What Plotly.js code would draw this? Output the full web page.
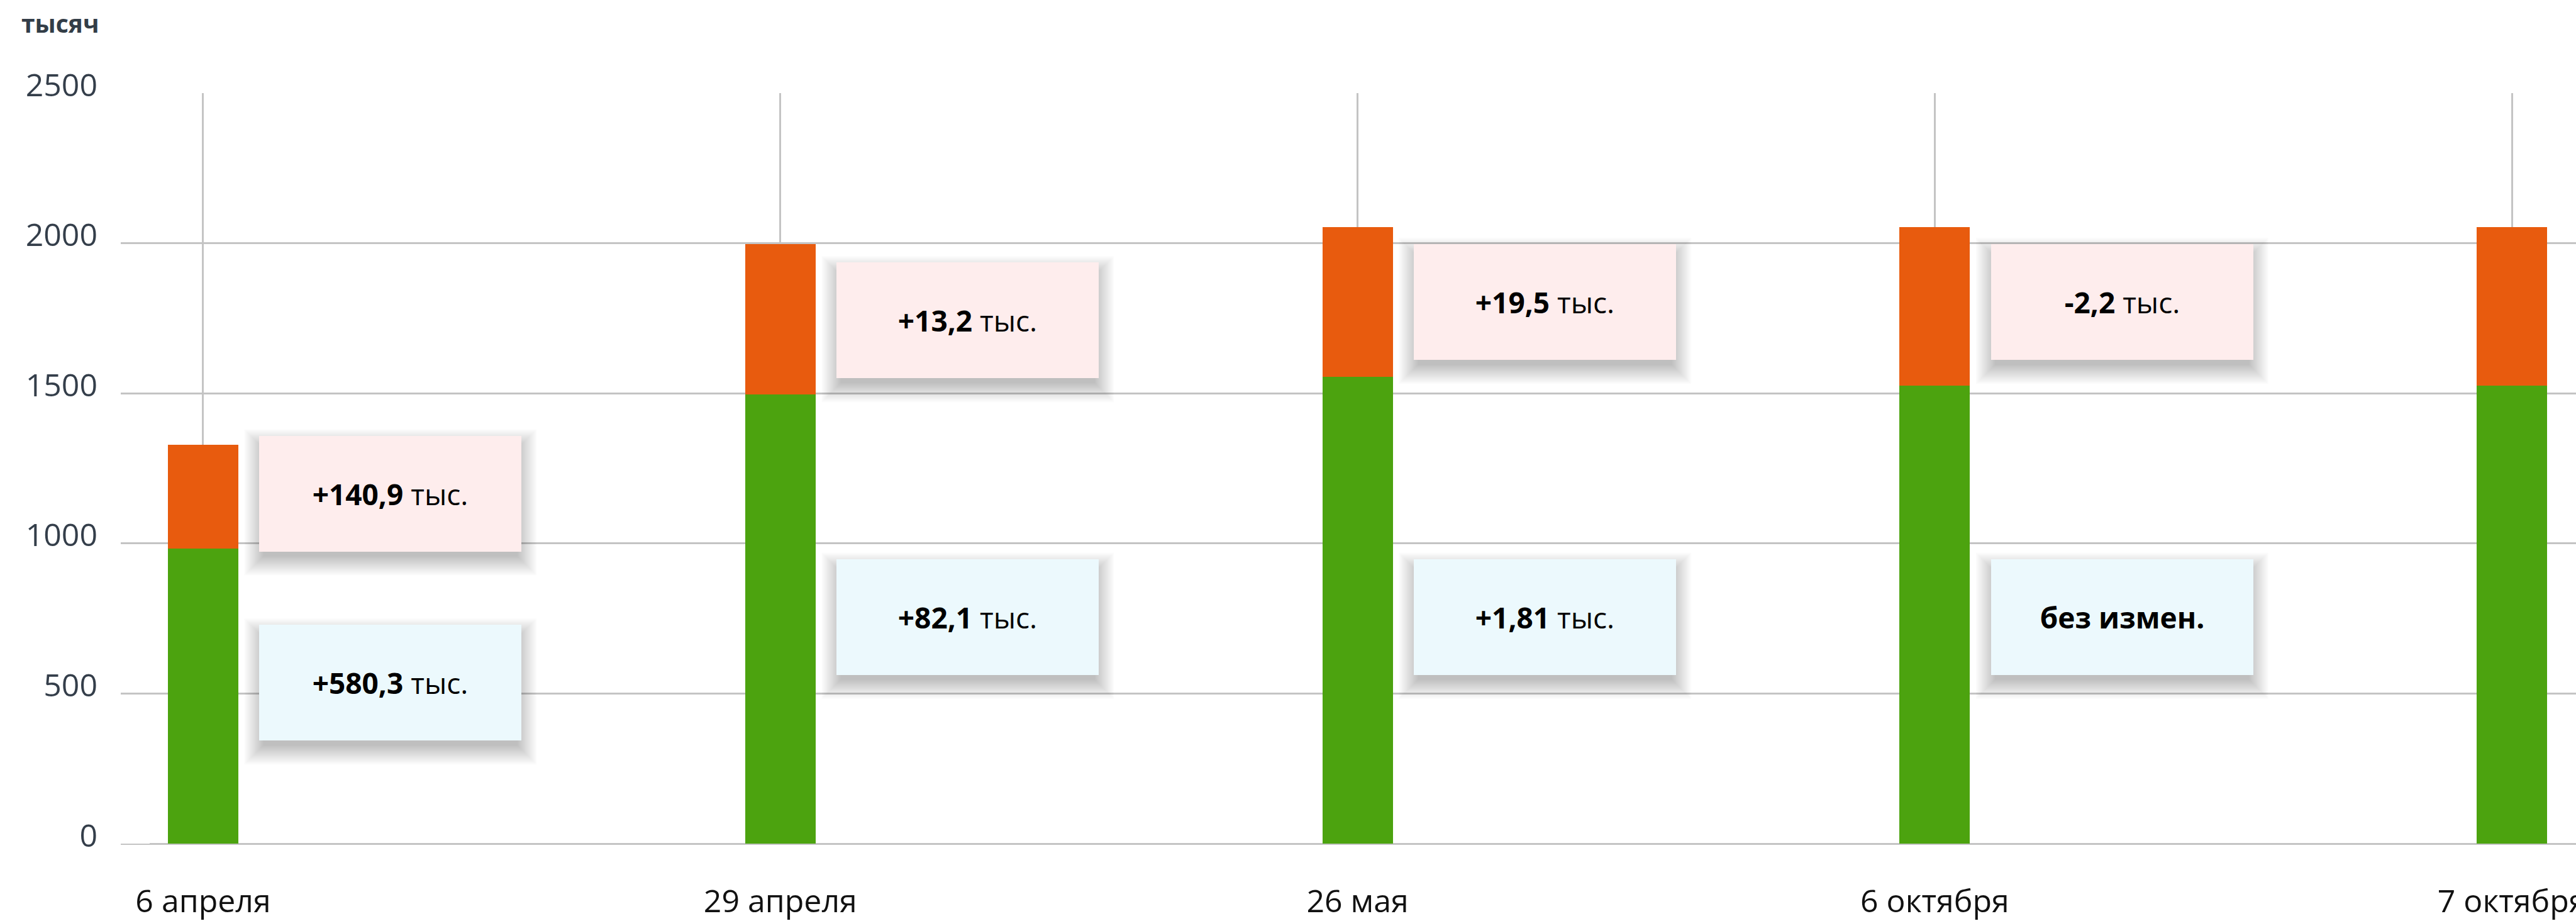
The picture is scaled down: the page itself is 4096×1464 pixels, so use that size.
<!DOCTYPE html>
<html>
<head>
<meta charset="utf-8">
<script src="https://cdn.plot.ly/plotly-3.0.1.min.js"></script>
<style>
html,body{margin:0;padding:0;background:#fff;}
#chart{width:4096px;height:1464px;}
</style>
</head>
<body>
<div id="chart"></div>
<script>
// ---- data ----
const categories = ['6 апреля', '29 апреля', '26 мая', '6 октября', '7 октября'];
const greenValues = [982, 1497, 1555, 1525, 1526];
const orangeValues = [347, 500, 499, 529, 527];
const yTicks = [0, 500, 1000, 1500, 2000, 2500];
const orangeLabels = ['<b>+140,9</b> тыс.', '<b>+13,2</b> тыс.', '<b>+19,5</b> тыс.', '<b>-2,2</b> тыс.'];
const greenLabels = ['<b>+580,3</b> тыс.', '<b>+82,1</b> тыс.', '<b>+1,81</b> тыс.', '<b>без измен.</b>'];
const orangeLabelLevel = [1166, 1743, 1804, 1804];
const greenLabelLevel = [536, 755, 755, 755];

// ---- style ----
const FONT = 'Open Sans, Lato, sans-serif';
const GRID = '#c4c4c4';
const BOX_W = 417, BOX_H = 184, BOX_DX = 298;

const traces = [
  {type: 'bar', x: categories, y: greenValues, marker: {color: '#4ca30f', line: {width: 0}}, width: 0.122, hoverinfo: 'skip'},
  {type: 'bar', x: categories, y: orangeValues, marker: {color: '#e85b0e', line: {width: 0}}, width: 0.122, hoverinfo: 'skip'}
];

const annotations = [];
const shapes = [];
function addBox(i, level, text, bg) {
  // soft drop shadow built from stacked translucent rectangles
  const N = 16, step = 2, off = 14;
  for (let k = 0; k < N; k++) {
    const e = k * step - 6;
    shapes.push({
      type: 'rect', layer: 'above',
      xref: 'x', xsizemode: 'pixel', xanchor: i,
      x0: BOX_DX - BOX_W / 2 - e, x1: BOX_DX + BOX_W / 2 + e,
      yref: 'y', ysizemode: 'pixel', yanchor: level,
      y0: -BOX_H / 2 - e - off, y1: BOX_H / 2 + e - off,
      fillcolor: 'rgba(20,10,20,0.014)', line: {width: 0}
    });
  }
  annotations.push({
    xref: 'x', yref: 'y', x: i, y: level, xshift: BOX_DX,
    xanchor: 'center', yanchor: 'middle',
    text: text, showarrow: false,
    width: BOX_W, height: BOX_H, borderpad: 0, borderwidth: 0,
    bgcolor: bg, align: 'center', valign: 'middle',
    font: {family: FONT, size: 46, color: '#000'}
  });
}
for (let i = 0; i < orangeLabels.length; i++) {
  addBox(i, orangeLabelLevel[i], orangeLabels[i], '#feeded');
  addBox(i, greenLabelLevel[i], greenLabels[i], '#ecf9fd');
}

// the baseline starts a little right of where the grid starts
shapes.push({
  type: 'rect', layer: 'above', xref: 'paper', x0: 0, x1: 46 / 3904,
  yref: 'y', ysizemode: 'pixel', yanchor: 0, y0: -4, y1: 4,
  fillcolor: '#ffffff', line: {width: 0}
});

const layout = {
  width: 4096, height: 1464,
  margin: {l: 192, r: 0, t: 148, b: 123, pad: 0},
  paper_bgcolor: '#ffffff', plot_bgcolor: '#ffffff',
  barmode: 'stack', showlegend: false,
  title: {
    text: '<b>тысяч</b>', xref: 'container', yref: 'container',
    x: 34 / 4096, xanchor: 'left', y: 1 - 38 / 1464, yanchor: 'middle',
    font: {family: FONT, size: 39, color: '#333d47'}
  },
  xaxis: {
    type: 'category', range: [-0.1427, 4.111],
    showgrid: true, gridcolor: GRID, gridwidth: 3,
    showline: false, zeroline: false, ticks: '',
    tickfont: {family: FONT, size: 50, color: '#111111'},
    ticklabelstandoff: 58, ticklabeloverflow: 'allow',
    fixedrange: true
  },
  yaxis: {
    range: [0, 2500], tickvals: yTicks, ticktext: yTicks.map(String),
    showgrid: true, gridcolor: GRID, gridwidth: 3,
    showline: false, zeroline: true, zerolinecolor: GRID, zerolinewidth: 3,
    ticks: '',
    tickfont: {family: FONT, size: 50, color: '#343e4a'},
    ticklabelstandoff: 36, ticklabelshift: -13,
    fixedrange: true
  },
  annotations: annotations,
  shapes: shapes
};

Plotly.newPlot('chart', traces, layout, {displayModeBar: false, staticPlot: true});
</script>
</body>
</html>
